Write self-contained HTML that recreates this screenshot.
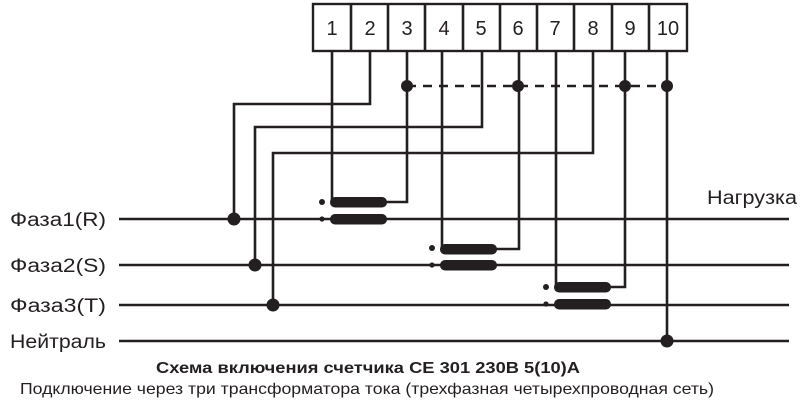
<!DOCTYPE html>
<html><head><meta charset="utf-8"><style>
html,body{margin:0;padding:0;background:#fff;width:800px;height:407px;overflow:hidden}
svg{display:block}
text{font-family:"Liberation Sans","DejaVu Sans",sans-serif;fill:#231f20}
</style></head><body>
<svg width="800" height="407" viewBox="0 0 800 407" xmlns="http://www.w3.org/2000/svg">
<g stroke="#231f20" stroke-width="2.6" fill="none">
<rect x="313" y="4" width="374" height="47" stroke-width="2.4"/>
<line x1="351" y1="4" x2="351" y2="51"/><line x1="388" y1="4" x2="388" y2="51"/>
<line x1="425" y1="4" x2="425" y2="51"/><line x1="463" y1="4" x2="463" y2="51"/>
<line x1="500" y1="4" x2="500" y2="51"/><line x1="537" y1="4" x2="537" y2="51"/>
<line x1="574" y1="4" x2="574" y2="51"/><line x1="612" y1="4" x2="612" y2="51"/>
<line x1="649" y1="4" x2="649" y2="51"/>
<line x1="119" y1="219" x2="789" y2="219"/>
<line x1="119" y1="265" x2="789" y2="265"/>
<line x1="119" y1="305" x2="789" y2="305"/>
<line x1="119" y1="341" x2="789" y2="341"/>
<polyline points="332,51 332,202"/>
<polyline points="370,51 370,104 234,104 234,219"/>
<polyline points="407,51 407,202 386,202"/>
<polyline points="442,51 442,249"/>
<polyline points="482,51 482,127 255,127 255,265"/>
<polyline points="519,51 519,249 496,249"/>
<polyline points="556,51 556,287"/>
<polyline points="593,51 593,153 273,153 273,305"/>
<polyline points="625,51 625,287 610,287"/>
<polyline points="667,51 667,341"/>
<line x1="407" y1="86" x2="667" y2="86" stroke-dasharray="9,7"/>
</g>
<g fill="#231f20">
<circle cx="407" cy="86" r="6"/><circle cx="518" cy="86" r="6"/>
<circle cx="625" cy="86" r="6"/><circle cx="667" cy="86" r="6"/>
<circle cx="234" cy="219" r="6.5"/><circle cx="255" cy="265" r="6.5"/>
<circle cx="273" cy="305" r="6.5"/><circle cx="667" cy="341" r="6.5"/>
<rect x="330" y="197" width="57" height="10.5" rx="5"/>
<rect x="330" y="214" width="57" height="10.5" rx="5"/>
<circle cx="322" cy="202" r="3"/><circle cx="322" cy="219" r="2.6"/>
<rect x="440" y="244" width="57" height="10.5" rx="5"/>
<rect x="440" y="260" width="57" height="10.5" rx="5"/>
<circle cx="432" cy="248" r="3"/><circle cx="432" cy="265" r="2.6"/>
<rect x="554" y="282" width="57" height="10.5" rx="5"/>
<rect x="554" y="299" width="57" height="10.5" rx="5"/>
<circle cx="546" cy="287" r="3"/><circle cx="546" cy="304" r="2.6"/>
</g>
<g font-size="20" text-anchor="middle">
<text x="332" y="35">1</text><text x="370" y="35">2</text><text x="407" y="35">3</text>
<text x="444" y="35">4</text><text x="481" y="35">5</text><text x="518" y="35">6</text>
<text x="555" y="35">7</text><text x="593" y="35">8</text><text x="630" y="35">9</text>
<text x="668" y="35">10</text>
</g>
<g font-size="19">
<text x="10" y="226" textLength="96" lengthAdjust="spacingAndGlyphs">Фаза1(R)</text>
<text x="10" y="272" textLength="96" lengthAdjust="spacingAndGlyphs">Фаза2(S)</text>
<text x="10" y="312" textLength="96" lengthAdjust="spacingAndGlyphs">Фаза3(T)</text>
<text x="10" y="348" textLength="96" lengthAdjust="spacingAndGlyphs">Нейтраль</text>
<text x="707" y="204" textLength="90" lengthAdjust="spacingAndGlyphs">Нагрузка</text>
</g>
<text x="156" y="373" font-size="16" font-weight="bold" textLength="424" lengthAdjust="spacingAndGlyphs">Схема включения счетчика  CE 301 230B 5(10)A</text>
<text x="20" y="394" font-size="16" textLength="694" lengthAdjust="spacingAndGlyphs">Подключение через три трансформатора тока (трехфазная четырехпроводная сеть)</text>
</svg>
</body></html>
